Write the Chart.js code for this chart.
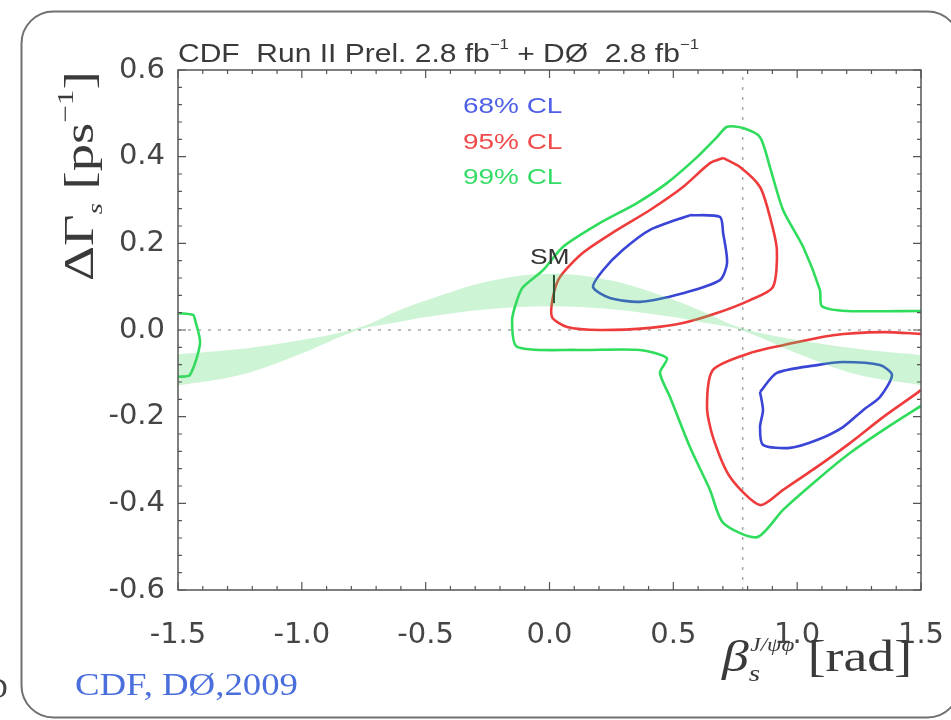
<!DOCTYPE html>
<html>
<head>
<meta charset="utf-8">
<script src="https://cdn.jsdelivr.net/npm/chart.js@4.4.0/dist/chart.umd.min.js"></script>
<style>
  html, body { margin: 0; padding: 0; background: #fff; }
  #wrap { width: 951px; height: 720px; position: relative; }
</style>
</head>
<body>
<div id="wrap"><canvas id="chart" width="951" height="720"></canvas></div>
<script>
// axis ticks
const xTicks = [-1.5, -1.0, -0.5, 0.0, 0.5, 1.0, 1.5];
const yTicks = [-0.6, -0.4, -0.2, 0.0, 0.2, 0.4, 0.6];

// SM expectation band (upper / lower edge)
const bandBeta  = [-1.5, -1.25, -1.0, -0.875, -0.75, -0.625, -0.5, -0.25, 0.0, 0.25, 0.5, 0.625, 0.75, 0.875, 1.0, 1.25, 1.5];
const bandUpper = [-0.056, -0.044, -0.023, -0.010, 0.009, 0.041, 0.068, 0.112, 0.130, 0.114, 0.070, 0.041, 0.009, -0.010, -0.023, -0.044, -0.058];
const bandLower = [-0.128, -0.104, -0.054, -0.023, 0.004, 0.017, 0.030, 0.048, 0.055, 0.048, 0.030, 0.017, 0.004, -0.023, -0.054, -0.104, -0.127];

// 99% CL contour (green), right part
const green99Beta = [1.500, 1.201, 1.100, 1.092, 1.024, 0.943, 0.890, 0.850, 0.781, 0.717, 0.676, 0.596, 0.474, 0.353, 0.204, 0.055, -0.026, -0.107, -0.131, -0.151, -0.131, 0.111, 0.365, 0.474, 0.446, 0.487, 0.567, 0.648, 0.701, 0.838, 0.943, 1.080, 1.213, 1.347, 1.500];
const green99DG   = [0.044, 0.044, 0.055, 0.092, 0.192, 0.277, 0.376, 0.445, 0.466, 0.469, 0.445, 0.399, 0.339, 0.293, 0.247, 0.192, 0.138, 0.099, 0.069, 0.023, -0.039, -0.046, -0.046, -0.065, -0.099, -0.155, -0.270, -0.369, -0.445, -0.478, -0.415, -0.346, -0.284, -0.231, -0.175];
// 99% CL contour (green), left edge piece
const green99LBeta = [-1.500, -1.439, -1.431, -1.411, -1.452, -1.500];
const green99LDG   = [0.039, 0.035, 0.023, -0.030, -0.104, -0.108];

// 95% CL contours (red)
const red95UBeta = [0.701, 0.769, 0.850, 0.890, 0.918, 0.902, 0.810, 0.676, 0.539, 0.406, 0.204, 0.071, 0.010, 0.014, 0.042, 0.135, 0.273, 0.406, 0.539, 0.648, 0.701];
const red95UDG   = [0.397, 0.376, 0.330, 0.261, 0.185, 0.099, 0.069, 0.039, 0.016, 0.005, 0.000, 0.007, 0.030, 0.076, 0.122, 0.178, 0.231, 0.277, 0.330, 0.385, 0.397];
const red95LBeta = [1.500, 1.347, 1.145, 0.943, 0.810, 0.660, 0.636, 0.660, 0.729, 0.850, 0.943, 1.080, 1.213, 1.347, 1.485, 1.500];
const red95LDG   = [-0.009, -0.005, -0.012, -0.035, -0.053, -0.092, -0.178, -0.247, -0.339, -0.404, -0.369, -0.316, -0.261, -0.201, -0.145, -0.138];

// 68% CL contours (blue)
const blue68UBeta = [0.567, 0.688, 0.701, 0.717, 0.688, 0.539, 0.365, 0.244, 0.176, 0.216, 0.297, 0.406, 0.567];
const blue68UDG   = [0.265, 0.261, 0.224, 0.155, 0.115, 0.085, 0.065, 0.074, 0.099, 0.138, 0.185, 0.231, 0.265];
const blue68LBeta = [0.850, 0.918, 1.080, 1.185, 1.334, 1.383, 1.334, 1.266, 1.185, 1.080, 0.971, 0.862, 0.850, 0.862, 0.850];
const blue68LDG   = [-0.143, -0.099, -0.081, -0.074, -0.081, -0.104, -0.155, -0.185, -0.224, -0.254, -0.272, -0.265, -0.224, -0.185, -0.143];

// SM point (error bar) and reference lines
const smBeta = [0.018, 0.018];
const smDG   = [0.062, 0.127];
const refBeta = 0.78;

const pts = (xs, ys) => xs.map((x, i) => ({ x, y: ys[i] }));

const colors = {
  green: '#2fdc5c',
  red: '#ee3b3b',
  blue: '#3a45d6',
  band: 'rgba(70, 215, 100, 0.27)',
  dotted: '#a8a8a8',
  axis: '#555555',
  text: '#3a3a3a',
};

function contour(data, color) {
  return {
    data,
    borderColor: color,
    borderWidth: 2.6,
    pointRadius: 0,
    tension: 0.25,
    fill: false,
  };
}

// draw a run of text pieces, optionally stretched
function textRun(ctx, parts, x, y, sx, rotate) {
  ctx.save();
  ctx.translate(x, y);
  if (rotate) ctx.rotate(-Math.PI / 2);
  ctx.scale(sx, 1);
  ctx.textBaseline = 'alphabetic';
  ctx.textAlign = 'left';
  let cx = 0;
  for (const p of parts) {
    ctx.font = p.font;
    ctx.fillStyle = p.color;
    ctx.fillText(p.t, cx + (p.dx || 0), p.dy || 0);
    cx += ctx.measureText(p.t).width + (p.dx || 0);
  }
  ctx.restore();
}

const decorPlugin = {
  id: 'decor',
  beforeDraw(chart) {
    const ctx = chart.ctx;
    ctx.save();
    ctx.fillStyle = '#ffffff';
    ctx.fillRect(0, 0, chart.width, chart.height);
    // rounded frame of the slide
    ctx.strokeStyle = '#707070';
    ctx.lineWidth = 2;
    ctx.beginPath();
    ctx.roundRect(21.5, 11.5, 938, 706, 32);
    ctx.stroke();
    ctx.restore();
  },
  afterDraw(chart) {
    const ctx = chart.ctx;
    const { left, right, top, bottom } = chart.chartArea;
    const xs = chart.scales.x, ys = chart.scales.y;

    // axis box
    ctx.save();
    ctx.strokeStyle = colors.axis;
    ctx.lineWidth = 1.5;
    ctx.strokeRect(left, top, right - left, bottom - top);

    // inward tick marks
    ctx.lineWidth = 1.2;
    ctx.beginPath();
    for (let i = 0; i <= 30; i++) {
      const v = -1.5 + i * 0.1;
      const px = xs.getPixelForValue(v);
      const len = i % 5 === 0 ? 8 : 4;
      ctx.moveTo(px, bottom); ctx.lineTo(px, bottom - len);
      ctx.moveTo(px, top); ctx.lineTo(px, top + len);
    }
    for (let i = 0; i <= 30; i++) {
      const v = -0.6 + i * 0.04;
      const py = ys.getPixelForValue(v);
      const len = i % 5 === 0 ? 8 : 4;
      ctx.moveTo(left, py); ctx.lineTo(left + len, py);
      ctx.moveTo(right, py); ctx.lineTo(right - len, py);
    }
    ctx.stroke();
    ctx.restore();

    const sans = (s) => `${s}px "Liberation Sans", Arial, sans-serif`;
    const serif = (s) => `${s}px "Liberation Serif", "Times New Roman", serif`;
    const iserif = (s) => `italic ${s}px "Liberation Serif", "Times New Roman", serif`;

    // title
    textRun(ctx, [
      { t: 'CDF  Run II Prel. 2.8 fb', font: sans(25), color: colors.text },
      { t: '\u22121', font: sans(14), color: colors.text, dy: -13 },
      { t: ' + D\u00d8  2.8 fb', font: sans(25), color: colors.text },
      { t: '\u22121', font: sans(14), color: colors.text, dy: -13 },
    ], 178, 62, 1.2);

    // legend
    textRun(ctx, [{ t: '68% CL', font: sans(22), color: '#4f5fe6' }], 463, 113, 1.27);
    textRun(ctx, [{ t: '95% CL', font: sans(22), color: '#f04a4a' }], 463, 149, 1.27);
    textRun(ctx, [{ t: '99% CL', font: sans(22), color: '#35dd66' }], 463, 184, 1.27);

    // SM label
    textRun(ctx, [{ t: 'SM', font: sans(22), color: '#333' }], 530, 264, 1.2);

    // y title
    textRun(ctx, [
      { t: '\u0394\u0393', font: serif(42), color: '#3a3a3a' },
      { t: 's', font: iserif(22), color: '#3a3a3a', dy: 9 },
      { t: ' [ps', font: serif(42), color: '#3a3a3a' },
      { t: '\u22121', font: serif(24), color: '#3a3a3a', dy: -20 },
      { t: ']', font: serif(42), color: '#3a3a3a' },
    ], 93, 281, 1.3, true);

    // x title
    textRun(ctx, [
      { t: '\u03b2', font: iserif(44), color: '#3a3a3a' },
      { t: 's', font: iserif(24), color: '#3a3a3a', dy: 10 },
      { t: 'J/\u03c8\u03c6', font: iserif(19), color: '#3a3a3a', dy: -20, dx: -8 },
      { t: ' [rad]', font: serif(44), color: '#3a3a3a' },
    ], 722, 671, 1.22);

    // footer
    textRun(ctx, [{ t: 'CDF, D\u00d8,2009', font: serif(32), color: '#4a6fdc' }], 75, 695, 1.15);
    textRun(ctx, [{ t: 'D', font: serif(30), color: '#444' }], -14, 698, 1.0);
  },
};

new Chart(document.getElementById('chart'), {
  type: 'line',
  data: {
    datasets: [
      // SM band (two edges, filled between)
      { data: pts(bandBeta, bandUpper), borderWidth: 0, pointRadius: 0, tension: 0.35, fill: '+1', backgroundColor: colors.band },
      { data: pts(bandBeta, bandLower), borderWidth: 0, pointRadius: 0, tension: 0.35, fill: false },
      { data: pts(smBeta, smDG), borderColor: '#222', borderWidth: 2, pointRadius: 0, fill: false },
      contour(pts(blue68UBeta, blue68UDG), colors.blue),
      contour(pts(blue68LBeta, blue68LDG), colors.blue),
      contour(pts(red95UBeta, red95UDG), colors.red),
      contour(pts(red95LBeta, red95LDG), colors.red),
      contour(pts(green99Beta, green99DG), colors.green),
      contour(pts(green99LBeta, green99LDG), colors.green),
      // dotted reference lines
      { data: [{ x: -1.5, y: 0 }, { x: 1.5, y: 0 }], borderColor: colors.dotted, borderWidth: 1.5, borderDash: [3, 7], pointRadius: 0, fill: false },
      { data: [{ x: refBeta, y: -0.6 }, { x: refBeta, y: 0.6 }], borderColor: colors.dotted, borderWidth: 1.5, borderDash: [3, 7], pointRadius: 0, fill: false },
    ],
  },
  options: {
    responsive: false,
    animation: false,
    layout: { padding: { left: 0, top: 70, right: 30, bottom: 0 } },
    plugins: {
      legend: { display: false },
      tooltip: { enabled: false },
    },
    scales: {
      x: {
        type: 'linear',
        min: -1.5,
        max: 1.5,
        grid: { display: false, drawTicks: false },
        border: { display: false },
        afterBuildTicks: (s) => { s.ticks = xTicks.map((v) => ({ value: v })); },
        afterFit: (s) => { s.height = 130; s.paddingLeft = 0; s.paddingRight = 0; },
        ticks: {
          autoSkip: false,
          maxRotation: 0,
          padding: 28,
          color: '#454545',
          font: { family: 'DejaVu Sans', size: 29 },
          callback: (v) => v.toFixed(1),
        },
      },
      y: {
        type: 'linear',
        min: -0.6,
        max: 0.6,
        grid: { display: false, drawTicks: false },
        border: { display: false },
        afterBuildTicks: (s) => { s.ticks = yTicks.map((v) => ({ value: v })); },
        afterFit: (s) => { s.width = 178; s.paddingTop = 0; s.paddingBottom = 0; },
        ticks: {
          autoSkip: false,
          padding: 13,
          color: '#454545',
          font: { family: 'DejaVu Sans', size: 29 },
          callback: (v) => v.toFixed(1),
        },
      },
    },
  },
  plugins: [decorPlugin],
});
</script>
</body>
</html>
